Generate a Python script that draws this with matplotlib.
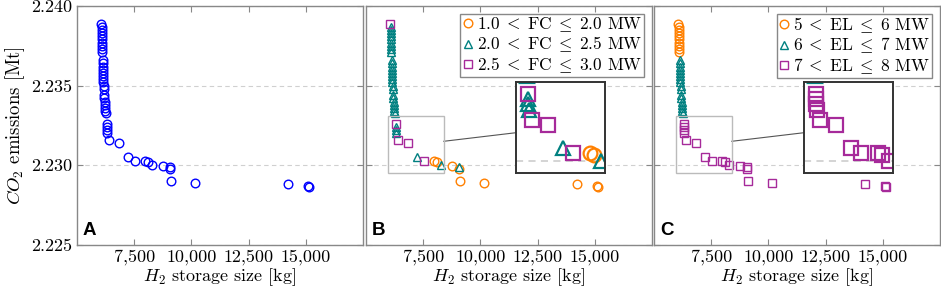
import matplotlib.pyplot as plt
from matplotlib.patches import Rectangle
from matplotlib.ticker import FuncFormatter

plt.rcParams['font.family'] = ['cmr10']
plt.rcParams['mathtext.fontset'] = 'cm'
plt.rcParams['axes.formatter.use_mathtext'] = True

# vertical column of solutions at the smallest storage size (top to bottom)
col_x = [6070, 6075, 6080, 6085, 6090, 6095, 6100, 6100, 6105, 6110,
         6120, 6125, 6130, 6135, 6140, 6145, 6150, 6155, 6160, 6170,
         6190, 6200, 6210, 6220, 6230, 6240, 6250,
         6290, 6295, 6300, 6305]
col_y = [2.2389, 2.2387, 2.2385, 2.2383, 2.2381, 2.2379, 2.2377, 2.2375, 2.2373, 2.2371,
         2.2366, 2.2364, 2.2362, 2.2360, 2.2358, 2.2356, 2.2354, 2.2352, 2.2350, 2.2348,
         2.2344, 2.2342, 2.2340, 2.2338, 2.2336, 2.2334, 2.2333,
         2.2326, 2.2324, 2.2322, 2.2320]
# the rest of the pareto front
low_x = [6390, 6840, 7240, 7530, 7990, 8090, 8280, 8780, 9060, 9080,
         9100, 10140, 14240, 15090, 15150]
low_y = [2.2316, 2.2314, 2.2305, 2.2303, 2.2303, 2.2302, 2.2300, 2.22996, 2.22991, 2.2298,
         2.2290, 2.2289, 2.22881, 2.2287, 2.22866]

storage = col_x + low_x
co2 = col_y + low_y

# class of fuel cell size (panel B) and electrolyser size (panel C), 0..2
fc_class = [2] + [1] * 26 + [2, 1, 1, 1] + [2, 2, 1, 2, 0, 0, 1, 0, 1, 0, 0, 0, 0, 0, 0]
el_class = [0] * 10 + [1] * 17 + [2] * 4 + [2] * 15

fc_labels = [r'$1.0\;<\;\mathrm{FC}\;\leq\;2.0$ MW',
             r'$2.0\;<\;\mathrm{FC}\;\leq\;2.5$ MW',
             r'$2.5\;<\;\mathrm{FC}\;\leq\;3.0$ MW']
el_labels = [r'$5\;<\;\mathrm{EL}\;\leq\;6$ MW',
             r'$6\;<\;\mathrm{EL}\;\leq\;7$ MW',
             r'$7\;<\;\mathrm{EL}\;\leq\;8$ MW']

colors = ['#FF8000', '#008080', '#A62A9A']
markers = ['o', '^', 's']
msizes = [6.2, 6.2, 6.0]

xlim = (5000, 17500)
ylim = (2.225, 2.240)
gray = '#888888'

# spy box (data coords) and magnification
src = (5950, 8400, 2.2295, 2.2331)
zoom = 1.6
spy_center = (0.68, 0.492)


def draw_classes(ax, cls, labels, scale=1.0):
    for k in range(3):
        xs = [x for x, c in zip(storage, cls) if c == k]
        ys = [y for y, c in zip(co2, cls) if c == k]
        ax.plot(xs, ys, linestyle='none', marker=markers[k], ms=msizes[k] * scale,
                mfc='none', mec=colors[k], mew=1.0 * scale, label=labels[k])


def style(ax):
    ax.set_xlim(*xlim)
    ax.set_ylim(*ylim)
    ax.set_xticks([7500, 10000, 12500, 15000])
    ax.set_yticks([2.225, 2.230, 2.235, 2.240])
    ax.xaxis.set_major_formatter(FuncFormatter(lambda v, p: f'{v:,.0f}'))
    ax.yaxis.set_major_formatter(FuncFormatter(lambda v, p: f'{v:.3f}'))
    ax.tick_params(direction='in', length=4, color=gray, top=True, right=True,
                   labelsize=13, pad=3.5)
    for s in ax.spines.values():
        s.set_color(gray)
        s.set_linewidth(1.0)
    ax.yaxis.grid(True, linestyle=(0, (4, 3)), color='#D0D0D0', lw=0.8)
    ax.set_axisbelow(True)
    ax.set_xlabel(r'$H_2$ storage size [kg]', fontsize=13, labelpad=0.5)


def add_spy(ax, cls):
    x0, x1, y0, y1 = src
    fx0 = (x0 - xlim[0]) / (xlim[1] - xlim[0])
    fx1 = (x1 - xlim[0]) / (xlim[1] - xlim[0])
    fy0 = (y0 - ylim[0]) / (ylim[1] - ylim[0])
    fy1 = (y1 - ylim[0]) / (ylim[1] - ylim[0])
    w = (fx1 - fx0) * zoom
    h = (fy1 - fy0) * zoom
    cx, cy = spy_center
    ins = ax.inset_axes([cx - w / 2, cy - h / 2, w, h])
    draw_classes(ins, cls, [None] * 3, scale=zoom)
    ins.set_xlim(x0, x1)
    ins.set_ylim(y0, y1)
    ins.set_xticks([])
    ins.set_yticks([2.230])
    ins.tick_params(left=False, labelleft=False)
    ins.yaxis.grid(True, linestyle=(0, (4, 3)), color='#D0D0D0', lw=0.8 * zoom)
    ins.set_axisbelow(True)
    for s in ins.spines.values():
        s.set_color('#333333')
        s.set_linewidth(1.4)
    ax.add_patch(Rectangle((x0, y0), x1 - x0, y1 - y0, fill=False,
                           ec='#BBBBBB', lw=1.0, zorder=3))
    # connector between the two box centres, clipped at the box edges
    scx, scy = (fx0 + fx1) / 2, (fy0 + fy1) / 2
    dx, dy = cx - scx, cy - scy
    t0 = (fx1 - scx) / dx
    t1 = (cx - w / 2 - scx) / dx
    ax.plot([scx + t0 * dx, scx + t1 * dx], [scy + t0 * dy, scy + t1 * dy],
            transform=ax.transAxes, color='#555555', lw=0.8)


fig = plt.figure(figsize=(9.41, 2.92), dpi=100)
W, H = 941, 292
lefts = [77, 366, 654]
axes = [fig.add_axes([l / W, 1 - 245 / H, 286 / W, 239 / H]) for l in lefts]

# A
ax = axes[0]
ax.plot(storage, co2, linestyle='none', marker='o', ms=6.2, mfc='none', mec='#0000FF', mew=1.0)
style(ax)
ax.set_ylabel(r'$CO_2$ emissions [Mt]', fontsize=13.5, labelpad=3)

# B
ax = axes[1]
draw_classes(ax, fc_class, fc_labels)
style(ax)
ax.tick_params(labelleft=False)
add_spy(ax, fc_class)

# C
ax = axes[2]
draw_classes(ax, el_class, el_labels)
style(ax)
ax.tick_params(labelleft=False)
add_spy(ax, el_class)

for ax in axes[1:]:
    leg = ax.legend(loc='upper right', fontsize=12.5, fancybox=False, framealpha=1,
                    edgecolor=gray, borderpad=0.1, labelspacing=0.05, handlelength=0.7,
                    handletextpad=0.15, borderaxespad=0.45)
    leg.set_zorder(10)

for ax, letter in zip(axes, 'ABC'):
    ax.text(0.021, 0.042, letter, transform=ax.transAxes, fontfamily='Liberation Sans',
            fontweight='bold', fontsize=13.5)

fig.savefig('out.png', dpi=100)
